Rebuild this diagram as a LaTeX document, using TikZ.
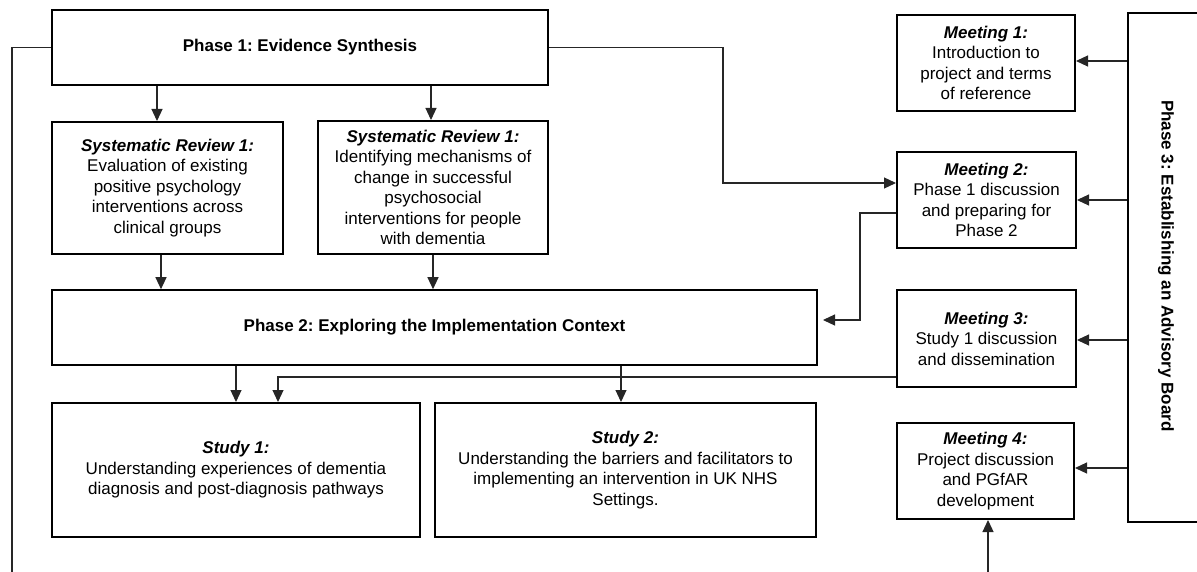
\documentclass[tikz,border=0pt]{standalone}
\usepackage{fontspec}
\setmainfont{Liberation Sans}
\usetikzlibrary{arrows.meta}
\frenchspacing
\begin{document}
\begin{tikzpicture}[x=1pt,y=-1pt,
  box/.style={draw=black, line width=2pt, rectangle, inner sep=0pt, align=center,
    font=\fontsize{17}{20.5}\selectfont},
  phasebox/.style={box, line width=1.6pt, font=\fontsize{17}{20.5}\selectfont\bfseries},
  conn/.style={line width=1.2pt, draw=black!85},
  arr/.style={conn, -{Triangle[length=12pt,width=11pt]}}]
\useasboundingbox (0,0) rectangle (1197,572);

% boxes
\node[phasebox, minimum width=496, minimum height=75] (p1) at (300,47.5) {Phase 1: Evidence Synthesis};
\node[box, minimum width=231, minimum height=132] (sr1) at (167.5,188)
  {\textbf{\textit{Systematic Review 1:}}\\Evaluation of existing\\positive psychology\\interventions across\\clinical groups};
\node[box, minimum width=230, minimum height=133] (sr2) at (433,187.5)
  {\textbf{\textit{Systematic Review 1:}}\\Identifying mechanisms of\\change in successful\\psychosocial\\interventions for people\\with dementia};
\node[phasebox, minimum width=765, minimum height=75] (p2) at (434.5,327.5) {Phase 2: Exploring the Implementation Context};
\node[box, minimum width=368, minimum height=134] (s1) at (236,470)
  {\textbf{\textit{Study 1:}}\\Understanding experiences of dementia\\diagnosis and post-diagnosis pathways};
\node[box, minimum width=381, minimum height=134] (s2) at (625.5,470)
  {\textbf{\textit{Study 2:}}\\Understanding the barriers and facilitators to\\implementing an intervention in UK NHS\\Settings.};
\node[box, minimum width=178, minimum height=96] (m1) at (986,63)
  {\textbf{\textit{Meeting 1:}}\\Introduction to\\project and terms\\of reference};
\node[box, minimum width=179, minimum height=96] (m2) at (986.5,200)
  {\textbf{\textit{Meeting 2:}}\\Phase 1 discussion\\and preparing for\\Phase 2};
\node[box, minimum width=179, minimum height=97] (m3) at (986.5,338.5)
  {\textbf{\textit{Meeting 3:}}\\Study 1 discussion\\and dissemination};
\node[box, minimum width=177, minimum height=96] (m4) at (985.5,471)
  {\textbf{\textit{Meeting 4:}}\\Project discussion\\and PGfAR\\development};
\node[box, minimum width=82, minimum height=509] (p3) at (1169,267.5) {};
\node[rotate=-90, inner sep=0pt, font=\fontsize{17}{20.5}\selectfont\bfseries] (p3t) at (1166,266)
  {Phase 3: Establishing an Advisory Board};

% helper coordinates
\coordinate (xa) at (157,0);
\coordinate (xb) at (431,0);
\coordinate (xc) at (161,0);
\coordinate (xd) at (433,0);
\coordinate (xe) at (236,0);
\coordinate (xf) at (278,0);
\coordinate (xg) at (621,0);
\coordinate (ya) at (0,61);
\coordinate (yb) at (0,200);
\coordinate (yc) at (0,340);
\coordinate (yd) at (0,468);
\coordinate (ye) at (0,183);
\coordinate (yf) at (0,213);
\coordinate (yg) at (0,377);
\coordinate (lb) at (12,575);
\coordinate (bend1) at (723,47.5);
\coordinate (bend2) at (860,213);
\coordinate (p2tip) at (823,320);
\coordinate (m4in) at (988,575);

% connectors
\draw[conn] (p1.west) -- (lb |- p1.west) -- (lb);
\draw[arr] (p1.east) -- (bend1) |- (m2.west |- ye);
\draw[arr] (p1.south -| xa) -- (sr1.north -| xa);
\draw[arr] (p1.south -| xb) -- (sr2.north -| xb);
\draw[arr] (sr1.south -| xc) -- (p2.north -| xc);
\draw[arr] (sr2.south -| xd) -- (p2.north -| xd);
\draw[arr] (m2.west |- yf) -- (bend2) |- (p2tip);
\draw[arr] (p2.south -| xe) -- (s1.north -| xe);
\draw[arr] (p2.south -| xg) -- (s2.north -| xg);
\draw[arr] (m3.west |- yg) -| (s1.north -| xf);
\draw[arr] (p3.west |- ya) -- (m1.east |- ya);
\draw[arr] (p3.west |- yb) -- (m2.east |- yb);
\draw[arr] (p3.west |- yc) -- (m3.east |- yc);
\draw[arr] (p3.west |- yd) -- (m4.east |- yd);
\draw[arr] (m4in) -- (m4.south -| m4in);
\end{tikzpicture}
\end{document}
